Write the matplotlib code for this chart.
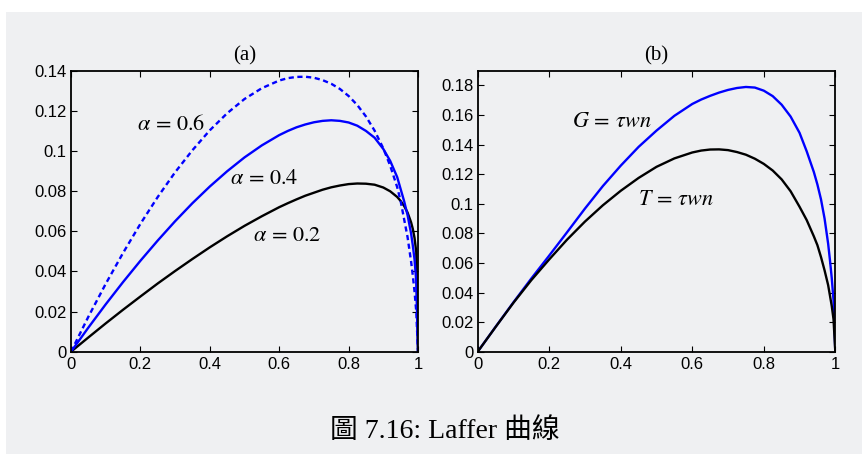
import matplotlib
matplotlib.use("Agg")
from matplotlib import pyplot as plt
from matplotlib.patches import Rectangle
from matplotlib.ticker import FuncFormatter

plt.rcParams['mathtext.fontset'] = 'stix'

# tax rate grid
tau = [0, 0.05, 0.1, 0.15, 0.2, 0.25, 0.3, 0.35, 0.4, 0.45, 0.5, 0.55, 0.6,
       0.625, 0.65, 0.675, 0.7, 0.725, 0.75, 0.775, 0.8, 0.825, 0.85, 0.875,
       0.9, 0.92, 0.94, 0.95, 0.96, 0.97, 0.98, 0.985, 0.99, 0.995, 1.0]

# panel (a): revenue for alpha = 0.2, 0.4, 0.6
rev_a02 = [0, 0.0071, 0.0141, 0.0209, 0.0275, 0.0340, 0.0402, 0.0462, 0.0520,
           0.0575, 0.0627, 0.0675, 0.0720, 0.0740, 0.0759, 0.0777, 0.0792,
           0.0807, 0.0819, 0.0828, 0.0835, 0.0838, 0.0837, 0.0832, 0.0818,
           0.0799, 0.0771, 0.0751, 0.0726, 0.0693, 0.0645, 0.0612, 0.0567,
           0.0497, 0]
rev_a04 = [0, 0.0120, 0.0236, 0.0347, 0.0453, 0.0554, 0.0650, 0.0740, 0.0823,
           0.0899, 0.0968, 0.1028, 0.1079, 0.1100, 0.1118, 0.1132, 0.1143,
           0.1150, 0.1153, 0.1150, 0.1142, 0.1126, 0.1100, 0.1066, 0.1010,
           0.0950, 0.0870, 0.0810, 0.0750, 0.0680, 0.0590, 0.0530, 0.0460,
           0.0350, 0]
rev_a06 = [0, 0.0174, 0.0338, 0.0492, 0.0637, 0.0771, 0.0894, 0.1004, 0.1103,
           0.1188, 0.1259, 0.1313, 0.1351, 0.1363, 0.1369, 0.1370, 0.1365,
           0.1353, 0.1335, 0.1309, 0.1274, 0.1229, 0.1172, 0.1101, 0.1013,
           0.0926, 0.0820, 0.0750, 0.0660, 0.0570, 0.0450, 0.0380, 0.0300,
           0.0200, 0]

# panel (b): G and T
G_b = [0, 0.0168, 0.0334, 0.0495, 0.0650, 0.0808, 0.0968, 0.1120, 0.1258,
       0.1385, 0.1495, 0.1595, 0.1675, 0.1705, 0.1730, 0.1752, 0.1770,
       0.1783, 0.1790, 0.1786, 0.1765, 0.1728, 0.1670, 0.1590, 0.1480,
       0.1355, 0.1215, 0.1130, 0.1030, 0.0900, 0.0730, 0.0620, 0.0500,
       0.0350, 0]
T_b = [0, 0.0167, 0.0331, 0.0484, 0.0624, 0.0758, 0.0880, 0.0990, 0.1088,
       0.1175, 0.1250, 0.1307, 0.1347, 0.1360, 0.1367, 0.1368, 0.1363,
       0.1350, 0.1332, 0.1305, 0.1270, 0.1225, 0.1165, 0.1085, 0.0980,
       0.0890, 0.0780, 0.0720, 0.0640, 0.0550, 0.0450, 0.0380, 0.0310,
       0.0220, 0]

bg = '#eff0f2'
fig = plt.figure(figsize=(8.64, 4.54), dpi=100, facecolor='white')
fig.patches.append(Rectangle((6 / 864, 0), 856 / 864, 442 / 454,
                             transform=fig.transFigure, facecolor=bg,
                             edgecolor='none', zorder=-10))

ax1 = fig.add_axes([71 / 864, 102.3 / 454, 347 / 864, 281 / 454])
ax2 = fig.add_axes([477.7 / 864, 102.3 / 454, 357.6 / 864, 281 / 454])

fmt = FuncFormatter(lambda v, p: f'{v:g}')
for ax in (ax1, ax2):
    ax.set_facecolor('none')
    ax.set_xlim(0, 1)
    ax.set_xticks([0, 0.2, 0.4, 0.6, 0.8, 1])
    ax.xaxis.set_major_formatter(fmt)
    ax.yaxis.set_major_formatter(fmt)
    ax.tick_params(direction='in', top=True, right=True, length=4.5,
                   width=0.8, labelsize=12)
    ax.tick_params(axis='x', pad=3.5)
    ax.tick_params(axis='y', pad=3)
    for s in ax.spines.values():
        s.set_linewidth(1.3)

ax1.plot(tau, rev_a02, color='black', lw=1.7)
ax1.plot(tau, rev_a04, color='#0000ff', lw=1.7)
ax1.plot(tau, rev_a06, color='#0000ff', lw=1.7, dashes=(2.2, 1.5))
ax1.set_ylim(0, 0.14)
ax1.set_yticks([0, 0.02, 0.04, 0.06, 0.08, 0.1, 0.12, 0.14])
ax1.set_title('(a)', family='Liberation Serif', fontsize=15, pad=7)
ax1.text(0.189, 0.1134, r'$\alpha\,=\,0.6$', fontsize=16, va='center')
ax1.text(0.458, 0.0864, r'$\alpha\,=\,0.4$', fontsize=16, va='center')
ax1.text(0.525, 0.0581, r'$\alpha\,=\,0.2$', fontsize=16, va='center')

ax2.plot(tau, G_b, color='#0000ff', lw=1.7)
ax2.plot(tau, T_b, color='black', lw=1.7)
ax2.set_ylim(0, 0.19)
ax2.set_yticks([0, 0.02, 0.04, 0.06, 0.08, 0.1, 0.12, 0.14, 0.16, 0.18])
ax2.set_title('(b)', family='Liberation Serif', fontsize=15, pad=7)
ax2.text(0.263, 0.156, r'$G\,=\,\tau wn$', fontsize=16, va='center')
ax2.text(0.449, 0.1035, r'$T\,=\,\tau wn$', fontsize=16, va='center')

for ax in (ax1, ax2):
    for lab in ax.get_xticklabels() + ax.get_yticklabels():
        lab.set_family('Liberation Sans')

fig.text(445 / 864, 1 - 431 / 454, '圖 7.16: Laffer 曲線', ha='center',
         va='center', fontsize=20,
         family=['Liberation Serif', 'Noto Sans CJK TC'])

fig.savefig('out.png', dpi=100, facecolor=fig.get_facecolor())
